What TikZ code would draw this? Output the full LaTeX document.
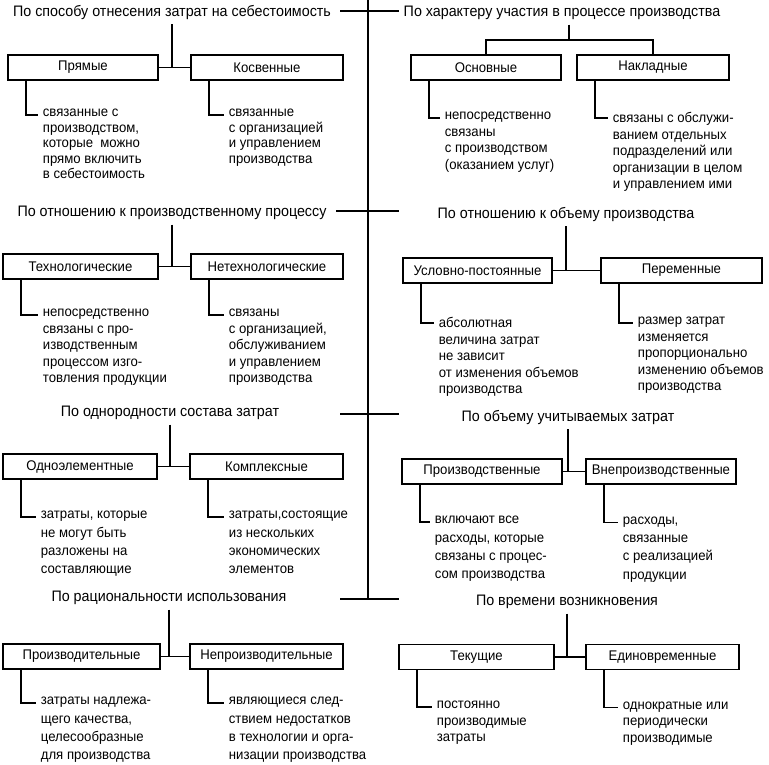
\documentclass[tikz,border=0pt]{standalone}
\usepackage{fontspec}
\setmainfont{Liberation Sans}[FakeStretch=0.94]
\usetikzlibrary{positioning}

\begin{document}
\begin{tikzpicture}[x=1pt,y=-1pt,line width=1.8pt,
  font=\fontsize{14}{16.5}\selectfont,
  title/.style={inner sep=4pt,font=\fontsize{15.2}{18}\selectfont},
  kind/.style={draw,minimum height=25pt,minimum width=#1,inner sep=2pt},
  kind/.default=152pt,
  note/.style={align=left,inner sep=0pt,anchor=north west},
  wide/.style={font=\fontsize{14}{18.2}\selectfont},
  tight/.style={font=\fontsize{14}{15.4}\selectfont}]
\useasboundingbox (0,0) rectangle (769,764);

\coordinate (top) at (368,0);
\coordinate (bot) at (368,599);
\coordinate (a1) at (340,11);
\coordinate (b1) at (399,11);
\coordinate (a2) at (336,211);
\coordinate (b2) at (399,211);
\coordinate (a3) at (340,414);
\coordinate (b3) at (399,414);
\coordinate (a4) at (340,599);
\coordinate (b4) at (399,599);
\draw (top) -- (bot);
\draw (a1) -- (b1);
\draw (a2) -- (b2);
\draw (a3) -- (b3);
\draw (a4) -- (b4);

\node[title] (t1) at (172,12) {По способу отнесения затрат на себестоимость};
\node[kind=150pt] (pr) at (83,67.5) {Прямые};
\node[kind] (kv) at (267,67.5) {Косвенные};
\node[note,tight] (n1) at (42,108.5) {связанные с\\производством,\\которые\ \ можно\\прямо включить\\в себестоимость};
\node[note,tight] (n2) at (228,108.5) {связанные\\с организацией\\и управлением\\производства};
\draw (t1.south) -- (t1.south |- pr.east);
\draw (pr.east) -- (kv.west);
\draw ([xshift=19pt]pr.south west) |- ([shift={(-4pt,-6.5pt)}]n1.north west);
\draw ([xshift=19pt]kv.south west) |- ([shift={(-4pt,-6.5pt)}]n2.north west);

\node[title] (t1r) at (562,13) {По характеру участия в процессе производства};
\coordinate (fork) at (569,40);
\node[kind=150pt] (os) at (486,67.5) {Основные};
\node[kind] (nk) at (653,67.5) {Накладные};
\node[note] (n3) at (444,111.5) {непосредственно\\связаны\\с производством\\(оказанием услуг)};
\node[note] (n4) at (612,111.5) {связаны с обслужи-\\ванием отдельных\\подразделений или\\организации в целом\\и управлением ими};
\draw (t1r.south -| fork) -- (fork);
\draw (os.north) |- (fork) -| (nk.north);
\draw ([xshift=19pt]os.south west) |- ([shift={(-4pt,-6.5pt)}]n3.north west);
\draw ([xshift=19pt]nk.south west) |- ([shift={(-4pt,-6.5pt)}]n4.north west);

\node[title] (t2) at (172,213) {По отношению к производственному процессу};
\node[kind=155pt] (th) at (80.5,266.5) {Технологические};
\node[kind] (nt) at (267,266.5) {Нетехнологические};
\node[note] (n5) at (42,308.5) {непосредственно\\связаны с про-\\изводственным\\процессом изго-\\товления продукции};
\node[note] (n6) at (228,308.5) {связаны\\с организацией,\\обслуживанием\\и управлением\\производства};
\draw (t2.south) -- (t2.south |- th.east);
\draw (th.east) -- (nt.west);
\draw ([xshift=19pt]th.south west) |- ([shift={(-4pt,-6.5pt)}]n5.north west);
\draw ([xshift=19pt]nt.south west) |- ([shift={(-4pt,-6.5pt)}]n6.north west);

\node[title] (t2r) at (566,214) {По отношению к объему производства};
\node[kind=149pt] (us) at (477.5,270.5) {Условно-постоянные};
\node[kind=161pt] (pm) at (681.5,270.5) {Переменные};
\node[note] (n7) at (438,316.5) {абсолютная\\величина затрат\\не зависит\\от изменения объемов\\производства};
\node[note] (n8) at (637,316.5) {размер затрат\\изменяется\\пропорционально\\изменению объемов\\производства};
\draw (t2r.south) -- (t2r.south |- us.east);
\draw (us.east) -- (pm.west);
\draw ([xshift=19pt]us.south west) |- ([shift={(-4pt,-6.5pt)}]n7.north west);
\draw ([xshift=19pt]pm.south west) |- ([shift={(-4pt,-6.5pt)}]n8.north west);

\node[title] (t3) at (170,413) {По однородности состава затрат};
\node[kind=154pt] (od) at (80,466.5) {Одноэлементные};
\node[kind=153pt] (km) at (266.5,466.5) {Комплексные};
\node[note,wide] (n9) at (40,510.5) {затраты, которые\\не могут быть\\разложены на\\составляющие};
\node[note,wide] (n10) at (228,510.5) {затраты,состоящие\\из нескольких\\экономических\\элементов};
\draw (t3.south) -- (t3.south |- od.east);
\draw (od.east) -- (km.west);
\draw ([xshift=19pt]od.south west) |- ([shift={(-4pt,-6.5pt)}]n9.north west);
\draw ([xshift=19pt]km.south west) |- ([shift={(-4pt,-6.5pt)}]n10.north west);

\node[title] (t3r) at (568,417) {По объему учитываемых затрат};
\node[kind=160pt] (pd) at (482,471.5) {Производственные};
\node[kind=150pt] (vn) at (661,471.5) {Внепроизводственные};
\node[note,wide] (n11) at (434,515.5) {включают все\\расходы, которые\\связаны с процес-\\сом производства};
\node[note,wide] (n12) at (622,516) {расходы,\\связанные\\с реализацией\\продукции};
\draw (t3r.south) -- (t3r.south |- pd.east);
\draw (pd.east) -- (vn.west);
\draw ([xshift=19pt]pd.south west) |- ([shift={(-4pt,-6.5pt)}]n11.north west);
\draw ([xshift=19pt]vn.south west) |- ([shift={(-4pt,-6.5pt)}]n12.north west);

\node[title] (t4) at (169,598) {По рациональности использования};
\node[kind=157pt] (pv) at (81.5,656.5) {Производительные};
\node[kind=153pt] (np) at (266.5,656.5) {Непроизводительные};
\node[note,wide] (n13) at (40,696.5) {затраты надлежа-\\щего качества,\\целесообразные\\для производства};
\node[note,wide] (n14) at (228,696.5) {являющиеся след-\\ствием недостатков\\в технологии и орга-\\низации производства};
\draw (t4.south) -- (t4.south |- pv.east);
\draw (pv.east) -- (np.west);
\draw ([xshift=19pt]pv.south west) |- ([shift={(-4pt,-6.5pt)}]n13.north west);
\draw ([xshift=19pt]np.south west) |- ([shift={(-4pt,-6.5pt)}]n14.north west);

\node[title] (t4r) at (567,602) {По времени возникновения};
\node[kind=155pt] (tk) at (476.5,657) {Текущие};
\node[kind=153pt] (ed) at (662.5,657) {Единовременные};
\node[note] (n15) at (436,700.5) {постоянно\\производимые\\затраты};
\node[note] (n16) at (622,701) {однократные или\\периодически\\производимые};
\draw (t4r.south) -- (t4r.south |- tk.east);
\draw (tk.east) -- (ed.west);
\draw ([xshift=19pt]tk.south west) |- ([shift={(-4pt,-6.5pt)}]n15.north west);
\draw ([xshift=19pt]ed.south west) |- ([shift={(-4pt,-6.5pt)}]n16.north west);
\end{tikzpicture}
\end{document}
